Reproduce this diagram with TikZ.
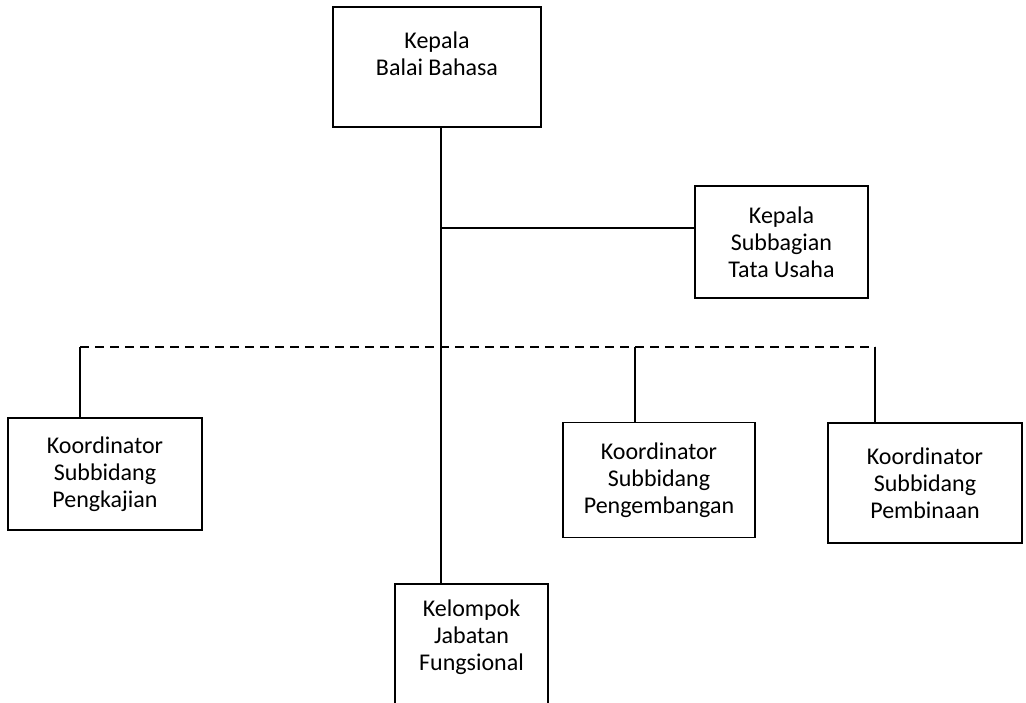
\documentclass[tikz,border=0pt]{standalone}
\usepackage{fontspec}
\setmainfont{Carlito}
\begin{document}
\begin{tikzpicture}[x=1pt,y=-1pt,line width=1.6pt,
        unit/.style = {draw,
            align=center,
            inner sep=0pt,
            font=\fontsize{24}{27}\selectfont
            },
        bus/.style = {dash pattern=on 9pt off 6pt}]

    \useasboundingbox (0,0) rectangle (1026,703);
    \clip (0,0) rectangle (1026,703);

    % Head
    \node[unit,minimum width=208pt,minimum height=120pt] (kepala) at (437,67) {Kepala\\Balai Bahasa\\ };

    % Secretariat
    \node[unit,minimum width=173pt,minimum height=112pt] (tu) at (781.5,242) {Kepala\\Subbagian\\Tata Usaha};

    % Coordinators
    \node[unit,minimum width=194pt,minimum height=112pt] (kaji) at (105,474) {Koordinator\\Subbidang\\Pengkajian};
    \node[unit,minimum width=192pt,minimum height=115pt] (kembang) at (659,480) {Koordinator\\Subbidang\\Pengembangan};
    \node[unit,minimum width=194pt,minimum height=120pt] (bina) at (925,483) {Koordinator\\Subbidang\\Pembinaan};

    % Functional group
    \node[unit,minimum width=153pt,minimum height=130pt,anchor=north] (kjf) at (471.5,583) {Kelompok\\Jabatan\\Fungsional\\ };

    % Joints
    \coordinate (trunk) at ([xshift=4pt]kepala.south);
    \coordinate (tuin) at ([yshift=14pt]tu.west);
    \coordinate (d1) at (80,347);
    \coordinate (d2) at (635,347);
    \coordinate (d3) at (875,347);

    % Lines
    \draw (trunk) -- (trunk |- kjf.north);
    \draw (trunk |- tuin) -- (tuin);
    \draw[bus] (d1) -- (d3);
    \draw (d1) -- (d1 |- kaji.north);
    \draw (d2) -- (d2 |- kembang.north);
    \draw (d3) -- (d3 |- bina.north);

\end{tikzpicture}
\end{document}
